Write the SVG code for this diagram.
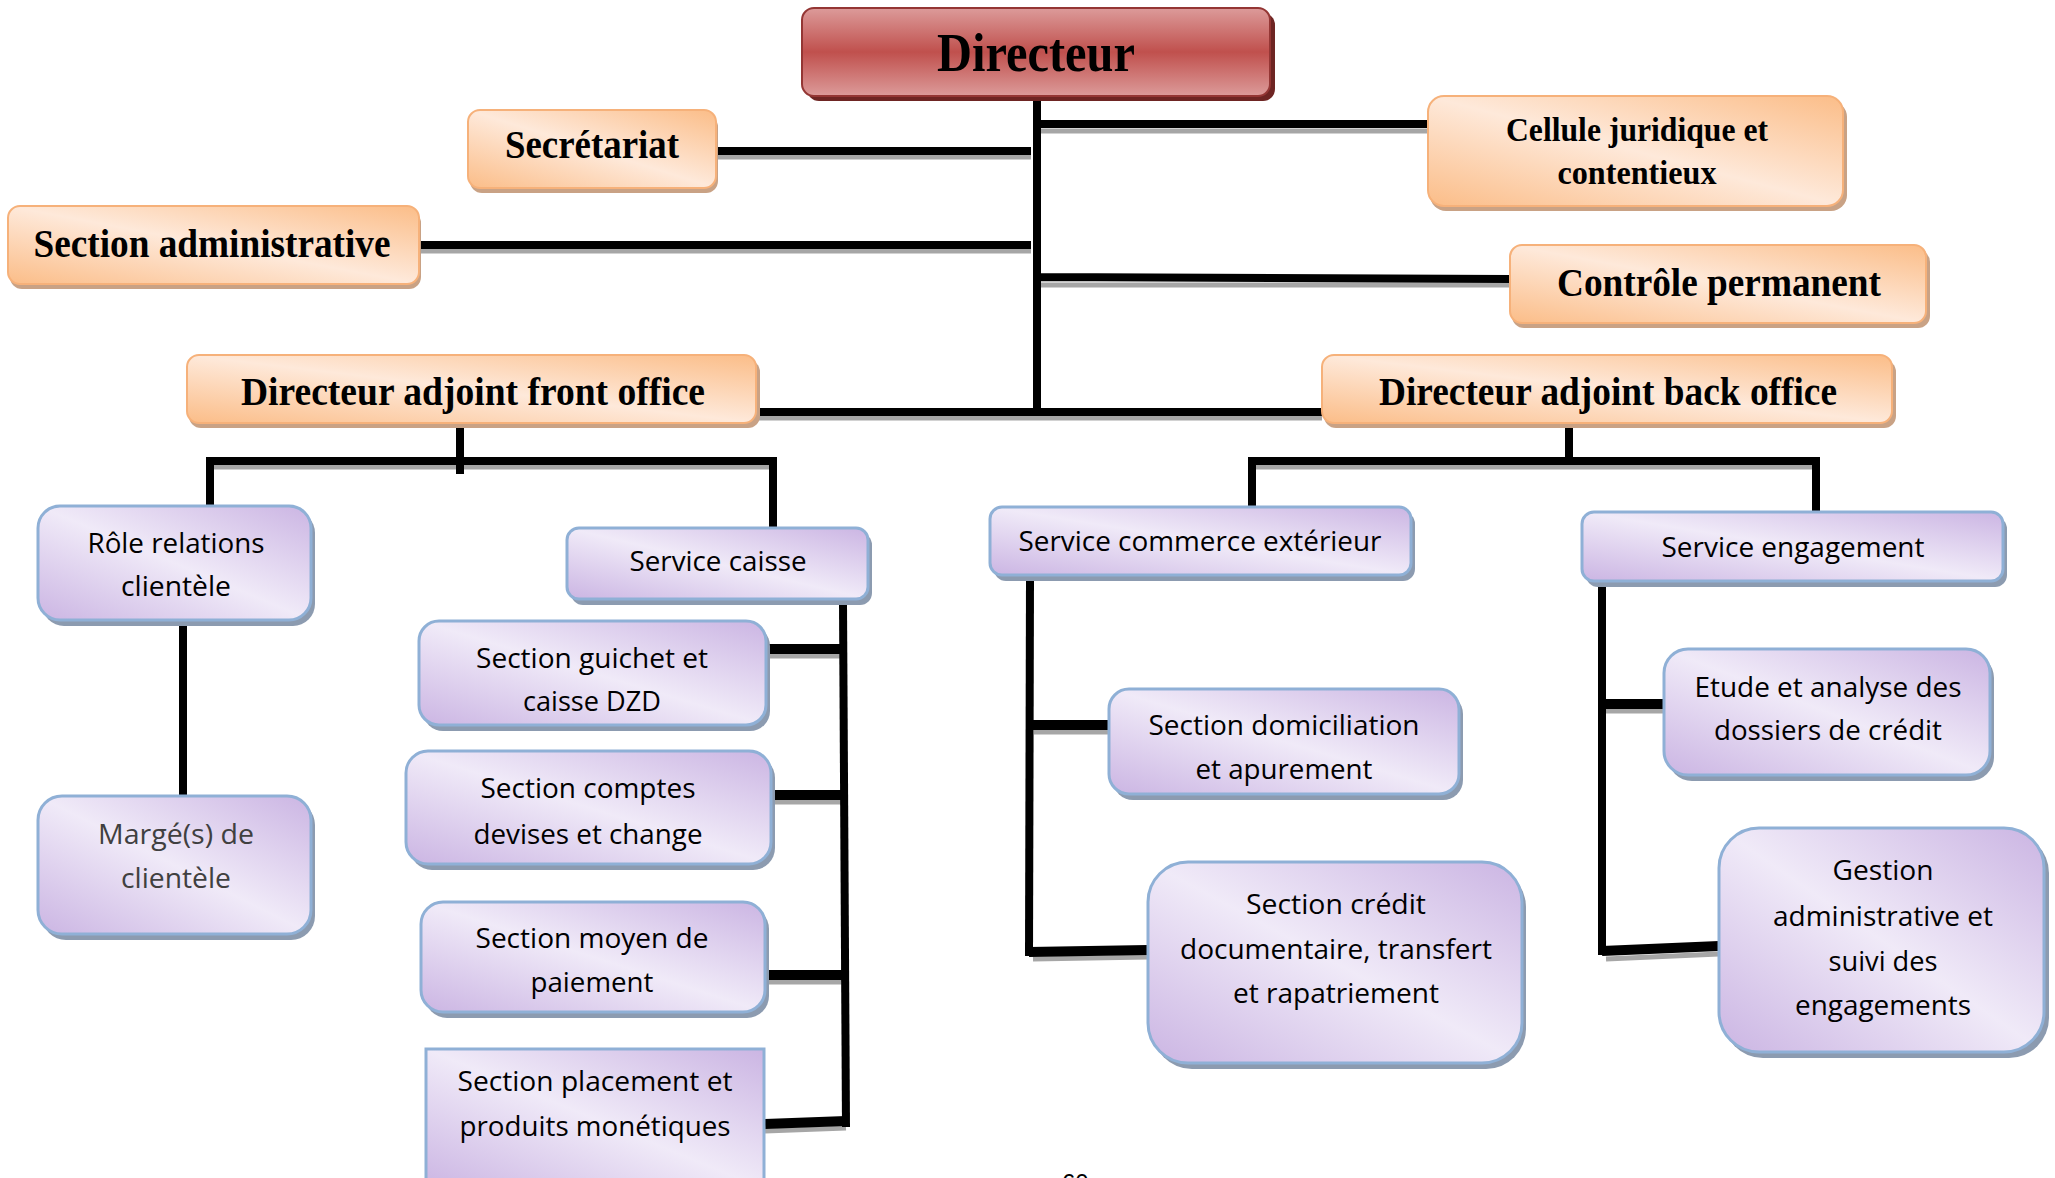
<svg xmlns="http://www.w3.org/2000/svg" width="2055" height="1178" viewBox="0 0 2055 1178">
<defs>
<linearGradient id="gOr" x1="0" y1="1" x2="1" y2="0">
<stop offset="0" stop-color="#fbbd88"/><stop offset="0.5" stop-color="#fee9da"/><stop offset="1" stop-color="#fbbd88"/>
</linearGradient>
<linearGradient id="gPu" x1="0" y1="1" x2="1" y2="0">
<stop offset="0" stop-color="#cbb5e3"/><stop offset="0.5" stop-color="#f0eaf8"/><stop offset="1" stop-color="#cbb5e3"/>
</linearGradient>
<linearGradient id="gRed" x1="0" y1="0" x2="0" y2="1">
<stop offset="0" stop-color="#dc9b9a"/><stop offset="0.5" stop-color="#c0504d"/><stop offset="1" stop-color="#dc9b9a"/>
</linearGradient>
<style>
.orS{fill:#c9a285}
.or{fill:url(#gOr);stroke:#f6b17a;stroke-width:2}
.puS{fill:#8c9bb0}
.pu{fill:url(#gPu);stroke:#8fb0d6;stroke-width:3}
.ser{font-family:"Liberation Serif","Times New Roman",serif;font-weight:bold;fill:#000;text-anchor:middle}
.san{font-family:"Open Sans","Noto Sans","Liberation Sans",sans-serif;font-size:28px;fill:#000;text-anchor:middle}
.ln{stroke:#000;stroke-width:8;fill:none}
.lt{stroke:#000;stroke-width:10;fill:none}
.sh{stroke:#a6a6a6;stroke-width:5;fill:none}
</style>
</defs>
<rect width="2055" height="1178" fill="#fff"/>

<g id="connectors">
<g class="sh">
<path d="M1041 131H1428M718 157H1031M421 251H1031M1041 285H1510M758 418H1322"/>
<path d="M214 467H777M1256 467H1820"/>
<path d="M768 656H843M773 802H843M767 982H843M765 1131L846 1128"/>
<path d="M1034 732H1109M1033 959L1148 957M1606 711H1664M1606 959L1719 954"/>
</g>
<path class="ln" d="M1037 100V416M1037 124H1428M718 151H1031M421 245H1031M1037 277L1510 279M758 412H1322"/>
<path class="ln" d="M460 426V474M206 461H777M210 457V506M773 457V528"/>
<path class="ln" d="M1569 426V461M1248 461H1820M1252 457V508M1816 457V512"/>
<path class="ln" d="M183 624V796"/>
<path class="ln" d="M843 603L846 1127"/>
<path class="ln" d="M1030 579L1029 956"/>
<path class="ln" d="M1602 585V955"/>
<path class="lt" d="M768 649H843M773 795H843M767 975H843M765 1124L846 1121"/>
<path class="lt" d="M1030 725H1109M1029 952L1148 950M1602 704H1664M1602 951L1719 946"/>
</g>

<g id="n-directeur">
<rect x="807" y="13" width="468" height="88" rx="12" fill="#6e2523"/>
<rect x="802" y="8" width="468" height="88" rx="12" fill="url(#gRed)" stroke="#943634" stroke-width="2"/>
<text class="ser" x="1036" y="71" font-size="54" textLength="198" lengthAdjust="spacingAndGlyphs">Directeur</text>
</g>

<g id="n-secretariat">
<rect class="orS" x="470" y="115" width="248" height="78" rx="12"/>
<rect class="or" x="468" y="110" width="248" height="78" rx="12"/>
<text class="ser" x="592" y="158" font-size="40" textLength="174" lengthAdjust="spacingAndGlyphs">Secrétariat</text>
</g>

<g id="n-section-admin">
<rect class="orS" x="10" y="211" width="411" height="78" rx="12"/>
<rect class="or" x="8" y="206" width="411" height="78" rx="12"/>
<text class="ser" x="212" y="257" font-size="40" textLength="357" lengthAdjust="spacingAndGlyphs">Section administrative</text>
</g>

<g id="n-cellule">
<rect class="orS" x="1430" y="101" width="417" height="110" rx="16"/>
<rect class="or" x="1428" y="96" width="415" height="110" rx="16"/>
<text class="ser" x="1637" y="141" font-size="33" textLength="262" lengthAdjust="spacingAndGlyphs">Cellule juridique et</text>
<text class="ser" x="1637" y="184" font-size="33" textLength="159" lengthAdjust="spacingAndGlyphs">contentieux</text>
</g>

<g id="n-controle">
<rect class="orS" x="1512" y="250" width="418" height="78" rx="12"/>
<rect class="or" x="1510" y="245" width="416" height="78" rx="12"/>
<text class="ser" x="1719" y="296" font-size="40" textLength="324" lengthAdjust="spacingAndGlyphs">Contrôle permanent</text>
</g>

<g id="n-da-front">
<rect class="orS" x="189" y="360" width="571" height="68" rx="12"/>
<rect class="or" x="187" y="355" width="569" height="68" rx="12"/>
<text class="ser" x="473" y="405" font-size="40" textLength="464" lengthAdjust="spacingAndGlyphs">Directeur adjoint front office</text>
</g>

<g id="n-da-back">
<rect class="orS" x="1324" y="360" width="572" height="68" rx="12"/>
<rect class="or" x="1322" y="355" width="570" height="68" rx="12"/>
<text class="ser" x="1608" y="405" font-size="40" textLength="458" lengthAdjust="spacingAndGlyphs">Directeur adjoint back office</text>
</g>

<g id="n-role">
<rect class="puS" x="42" y="511" width="273" height="115" rx="22"/>
<rect class="pu" x="38" y="506" width="273" height="114" rx="22"/>
<text class="san" x="176" y="553" textLength="177" lengthAdjust="spacingAndGlyphs">Rôle relations</text>
<text class="san" x="176" y="596" textLength="110" lengthAdjust="spacingAndGlyphs">clientèle</text>
</g>

<g id="n-marge">
<rect class="puS" x="42" y="801" width="273" height="139" rx="24"/>
<rect class="pu" x="38" y="796" width="273" height="138" rx="24"/>
<text class="san" x="176" y="844" textLength="156" lengthAdjust="spacingAndGlyphs" style="fill:#404040">Margé(s) de</text>
<text class="san" x="176" y="888" textLength="110" lengthAdjust="spacingAndGlyphs" style="fill:#404040">clientèle</text>
</g>

<g id="n-service-caisse">
<rect class="puS" x="571" y="533" width="301" height="72" rx="12"/>
<rect class="pu" x="567" y="528" width="301" height="71" rx="12"/>
<text class="san" x="718" y="571" textLength="177" lengthAdjust="spacingAndGlyphs">Service caisse</text>
</g>

<g id="n-guichet">
<rect class="puS" x="423" y="626" width="347" height="105" rx="20"/>
<rect class="pu" x="419" y="621" width="347" height="104" rx="20"/>
<text class="san" x="592" y="668" textLength="232" lengthAdjust="spacingAndGlyphs">Section guichet et</text>
<text class="san" x="592" y="711" textLength="138" lengthAdjust="spacingAndGlyphs">caisse DZD</text>
</g>

<g id="n-comptes">
<rect class="puS" x="410" y="756" width="365" height="114" rx="22"/>
<rect class="pu" x="406" y="751" width="365" height="113" rx="22"/>
<text class="san" x="588" y="798" textLength="215" lengthAdjust="spacingAndGlyphs">Section comptes</text>
<text class="san" x="588" y="844" textLength="229" lengthAdjust="spacingAndGlyphs">devises et change</text>
</g>

<g id="n-moyen">
<rect class="puS" x="425" y="907" width="344" height="111" rx="22"/>
<rect class="pu" x="421" y="902" width="344" height="110" rx="22"/>
<text class="san" x="592" y="948" textLength="233" lengthAdjust="spacingAndGlyphs">Section moyen de</text>
<text class="san" x="592" y="992" textLength="123" lengthAdjust="spacingAndGlyphs">paiement</text>
</g>

<g id="n-placement">
<rect class="pu" x="426" y="1049" width="338" height="140"/>
<text class="san" x="595" y="1091" textLength="275" lengthAdjust="spacingAndGlyphs">Section placement et</text>
<text class="san" x="595" y="1136" textLength="271" lengthAdjust="spacingAndGlyphs">produits monétiques</text>
</g>

<g id="n-commerce">
<rect class="puS" x="994" y="512" width="421" height="69" rx="12"/>
<rect class="pu" x="990" y="507" width="421" height="68" rx="12"/>
<text class="san" x="1200" y="551" textLength="363" lengthAdjust="spacingAndGlyphs">Service commerce extérieur</text>
</g>

<g id="n-domiciliation">
<rect class="puS" x="1113" y="694" width="350" height="106" rx="20"/>
<rect class="pu" x="1109" y="689" width="350" height="105" rx="20"/>
<text class="san" x="1284" y="735" textLength="271" lengthAdjust="spacingAndGlyphs">Section domiciliation</text>
<text class="san" x="1284" y="779" textLength="177" lengthAdjust="spacingAndGlyphs">et apurement</text>
</g>

<g id="n-credit-doc">
<rect class="puS" x="1152" y="867" width="374" height="202" rx="40"/>
<rect class="pu" x="1148" y="862" width="374" height="201" rx="40"/>
<text class="san" x="1336" y="914" textLength="180" lengthAdjust="spacingAndGlyphs">Section crédit</text>
<text class="san" x="1336" y="959" textLength="312" lengthAdjust="spacingAndGlyphs">documentaire, transfert</text>
<text class="san" x="1336" y="1003" textLength="206" lengthAdjust="spacingAndGlyphs">et rapatriement</text>
</g>

<g id="n-engagement">
<rect class="puS" x="1586" y="517" width="421" height="70" rx="12"/>
<rect class="pu" x="1582" y="512" width="421" height="69" rx="12"/>
<text class="san" x="1793" y="557" textLength="263" lengthAdjust="spacingAndGlyphs">Service engagement</text>
</g>

<g id="n-etude">
<rect class="puS" x="1668" y="654" width="326" height="127" rx="24"/>
<rect class="pu" x="1664" y="649" width="326" height="126" rx="24"/>
<text class="san" x="1828" y="697" textLength="267" lengthAdjust="spacingAndGlyphs">Etude et analyse des</text>
<text class="san" x="1828" y="740" textLength="228" lengthAdjust="spacingAndGlyphs">dossiers de crédit</text>
</g>

<g id="n-gestion">
<rect class="puS" x="1723" y="833" width="326" height="225" rx="40"/>
<rect class="pu" x="1719" y="828" width="325" height="224" rx="40"/>
<text class="san" x="1883" y="880" textLength="101" lengthAdjust="spacingAndGlyphs">Gestion</text>
<text class="san" x="1883" y="926" textLength="220" lengthAdjust="spacingAndGlyphs">administrative et</text>
<text class="san" x="1883" y="971" textLength="109" lengthAdjust="spacingAndGlyphs">suivi des</text>
<text class="san" x="1883" y="1015" textLength="176" lengthAdjust="spacingAndGlyphs">engagements</text>
</g>

<text x="1062" y="1191" font-family="Liberation Sans, Arial, sans-serif" font-size="24" fill="#000">60</text>
</svg>
